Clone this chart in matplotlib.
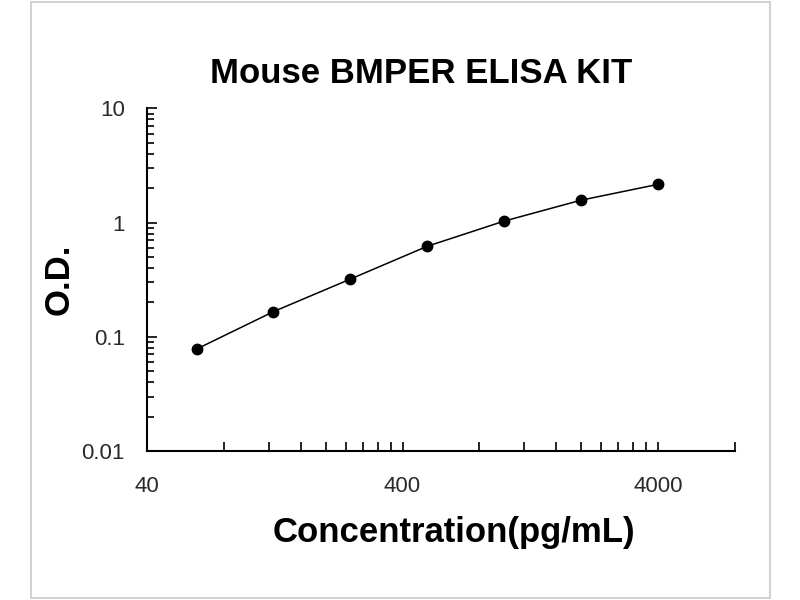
import matplotlib
matplotlib.use("Agg")
import matplotlib.pyplot as plt
from matplotlib.ticker import LogLocator, NullFormatter, FixedLocator, FixedFormatter
from matplotlib.patches import Rectangle

# standard curve values
conc = [62.5, 125, 250, 500, 1000, 2000, 4000]
od = [0.078, 0.166, 0.32, 0.62, 1.03, 1.57, 2.16]

x_ticks = [40, 400, 4000]
x_tick_labels = ["40", "400", "4000"]
y_ticks = [0.01, 0.1, 1, 10]
y_tick_labels = ["0.01", "0.1", "1", "10"]

plt.rcParams['font.family'] = ['Liberation Sans', 'DejaVu Sans']

fig = plt.figure(figsize=(8, 6), dpi=100)
fig.patch.set_facecolor("white")
fig.patches.append(Rectangle((30.5 / 800, 2 / 600), 739 / 800, 596 / 600,
                             transform=fig.transFigure, fill=False,
                             edgecolor="#c8c8c8", linewidth=1.2))

ax = fig.add_axes([0.18375, 0.2483, 0.735, 0.5712])
ax.plot(conc, od, color="black", linewidth=1.1, marker="o", markersize=7.5)

ax.set_xscale("log")
ax.set_yscale("log")
ax.set_xlim(40, 8000)
ax.set_ylim(0.01, 10)

for s in ("top", "right"):
    ax.spines[s].set_visible(False)
for s in ("left", "bottom"):
    ax.spines[s].set_linewidth(1.5)

ax.xaxis.set_major_locator(FixedLocator(x_ticks))
ax.xaxis.set_major_formatter(FixedFormatter(x_tick_labels))
x_minor = [40 * m for m in range(2, 10)] + [400 * m for m in range(2, 10)] + [8000]
ax.xaxis.set_minor_locator(FixedLocator(x_minor))
ax.xaxis.set_minor_formatter(NullFormatter())

ax.yaxis.set_major_locator(FixedLocator(y_ticks))
ax.yaxis.set_major_formatter(FixedFormatter(y_tick_labels))
ax.yaxis.set_minor_locator(LogLocator(base=10, subs=range(2, 10)))
ax.yaxis.set_minor_formatter(NullFormatter())

ax.tick_params(axis="x", which="both", direction="in", length=6.5, width=1.2,
               labelsize=16, labelcolor="#2a2a2a", pad=18)
ax.tick_params(axis="y", which="major", direction="in", length=7, width=1.2,
               labelsize=16, labelcolor="#2a2a2a", pad=16)
ax.tick_params(axis="y", which="minor", direction="in", length=5, width=1.2)

ax.set_title("Mouse BMPER ELISA KIT", fontsize=25, fontweight="bold", pad=18, x=0.466)
ax.set_xlabel("Concentration(pg/mL)", fontsize=25, fontweight="bold")
ax.xaxis.set_label_coords(0.522, -0.19)
ax.set_ylabel("O.D.", fontsize=25, fontweight="bold", labelpad=4)

fig.savefig("out.png", dpi=100, facecolor="white")
